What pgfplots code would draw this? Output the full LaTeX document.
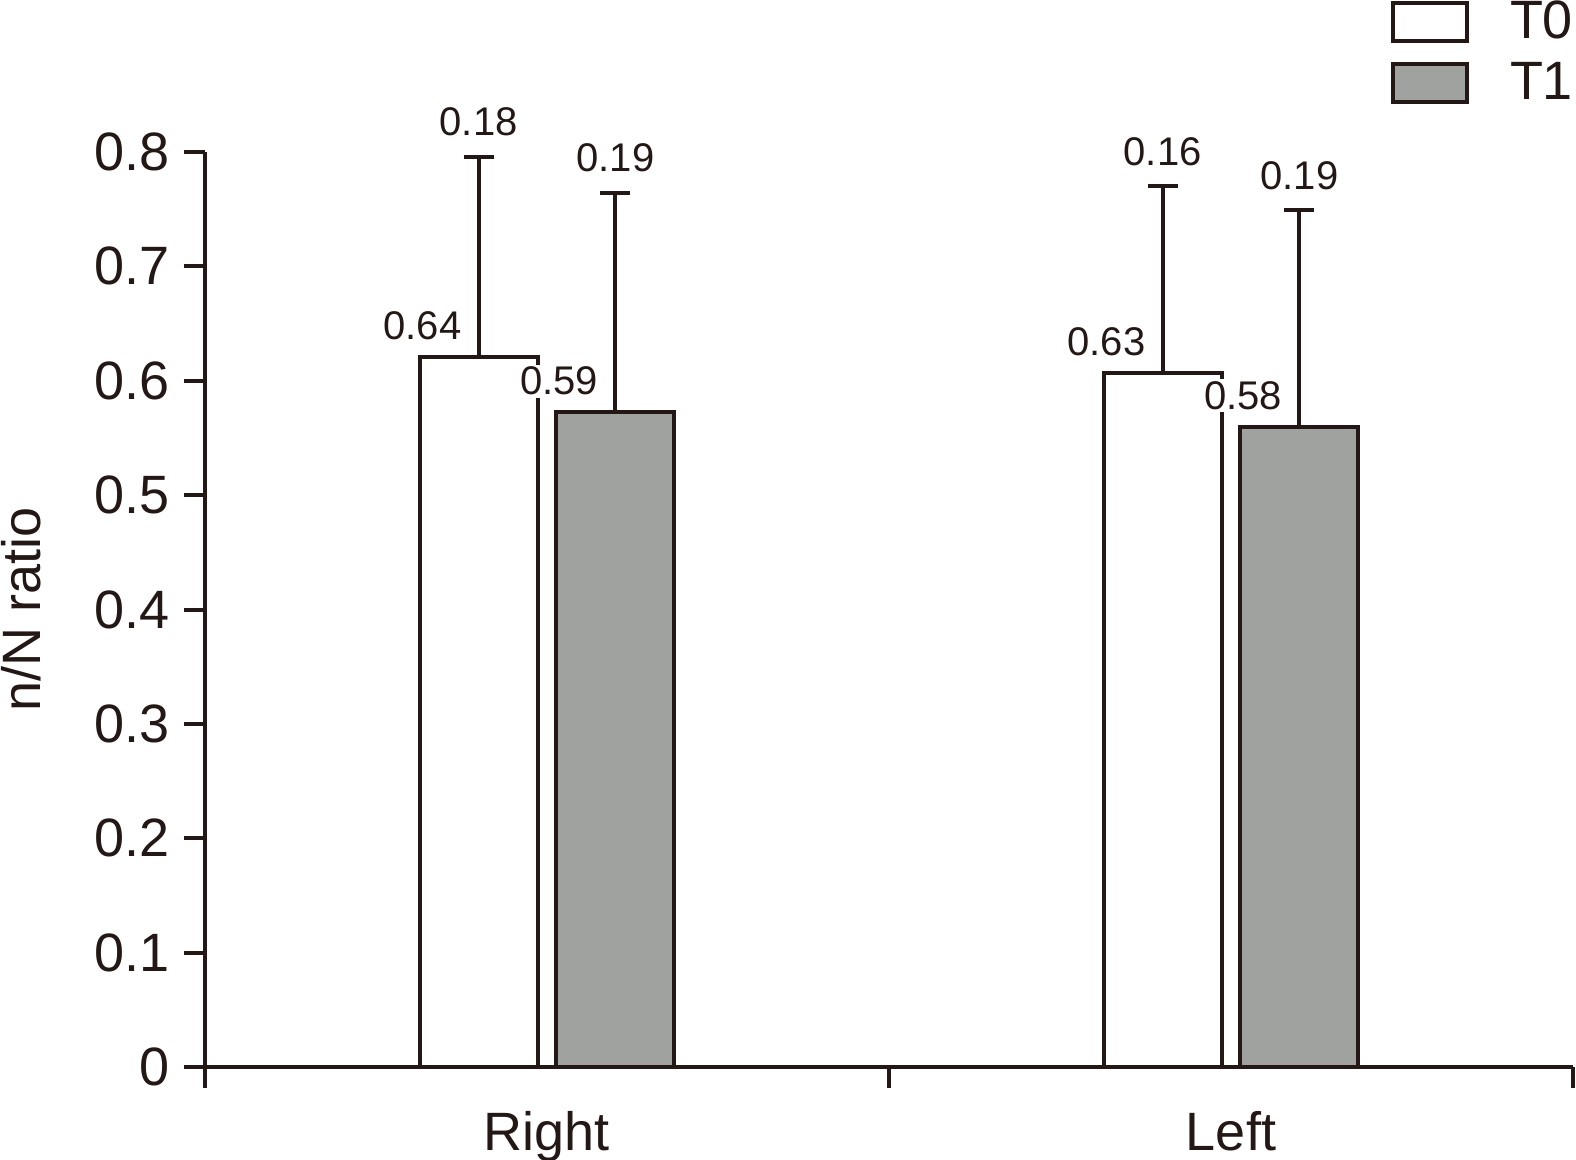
\documentclass[border=0pt]{standalone}
\usepackage{pgfplots}
\pgfplotsset{compat=1.18}
\usepackage{fontspec}
\setmainfont{Liberation Sans}
\definecolor{ink}{RGB}{35,24,21}
\definecolor{barfill}{RGB}{160,162,160}
\pgfplotstableread{
x    y      err
0.4  0.621  0.175
1.4  0.607  0.163
}\tzero
\pgfplotstableread{
x    y      err
0.6  0.573  0.191
1.6  0.560  0.189
}\tone
\newcommand{\bigf}{\fontsize{13.5bp}{16bp}\selectfont}
\newcommand{\smallf}{\fontsize{10bp}{12bp}\selectfont}
\pgfplotsset{boxlegend/.style={legend image code/.code={\draw[##1, line width=1bp] (0bp,-4.6bp) rectangle (18.5bp,4.9bp);}}}
\begin{document}
\begin{tikzpicture}
\path[use as bounding box] (-51.25bp,-23.25bp) rectangle (342.75bp,266.75bp);
\begin{axis}[
  at={(0,0)}, anchor=south west,
  scale only axis, width=342bp, height=228.75bp,
  clip=false,
  xmin=0, xmax=2, ymin=0, ymax=0.8,
  axis lines=left,
  axis line style={-, line width=1bp, draw=ink},
  tick align=outside, major tick length=5.25bp,
  tick style={draw=ink, line width=1bp},
  ytick={0,0.1,0.2,0.3,0.4,0.5,0.6,0.7,0.8},
  yticklabels={0,0.1,0.2,0.3,0.4,0.5,0.6,0.7,0.8},
  xtick={0,1,2}, xticklabels={,,},
  extra x ticks={0.5,1.5}, extra x tick labels={Right,Left},
  extra x tick style={major tick length=0pt, xticklabel style={yshift=-7.5bp}},
  /pgf/number format/assume math mode=true,
  tick label style={font=\bigf, text=ink},
  ylabel={n/N ratio},
  ylabel style={font=\bigf, text=ink, at={(axis description cs:-0.134,0.5)}, anchor=center},
  ybar, bar shift=0pt, bar width=29.5bp,
  legend style={at={(axis description cs:1,1)}, anchor=north west,
    xshift=-45.5bp, yshift=37.8bp, draw=none, fill=none,
    inner sep=0pt, outer sep=0pt, row sep=4.5bp, column sep=10.25bp,
    nodes={inner sep=0pt, font=\bigf, text=ink}},
  legend cell align=left,
]
\addplot[draw=ink, fill=white, line width=1bp, boxlegend,
  error bars/.cd, y dir=plus, y explicit, error mark=|,
  error bar style={draw=ink, line width=1bp},
  error mark options={draw=ink, line width=1bp, mark size=3.75bp}]
  table[x=x, y=y, y error=err] {\tzero};
\addlegendentry{T0}
\addplot[draw=ink, fill=barfill, line width=1bp, boxlegend,
  error bars/.cd, y dir=plus, y explicit, error mark=|,
  error bar style={draw=ink, line width=1bp},
  error mark options={draw=ink, line width=1bp, mark size=3.75bp}]
  table[x=x, y=y, y error=err] {\tone};
\addlegendentry{T1}
% mean labels
\node[anchor=base east, inner sep=0.6bp, fill=white, font=\smallf, text=ink, xshift=-3.5bp, yshift=4.2bp] at (axis cs:0.4,0.621) {0.64};
\node[anchor=base east, inner sep=0.6bp, fill=white, font=\smallf, text=ink, xshift=-3.5bp, yshift=4.2bp] at (axis cs:0.6,0.573) {0.59};
\node[anchor=base east, inner sep=0.6bp, fill=white, font=\smallf, text=ink, xshift=-3.5bp, yshift=4.2bp] at (axis cs:1.4,0.607) {0.63};
\node[anchor=base east, inner sep=0.6bp, fill=white, font=\smallf, text=ink, xshift=-3.5bp, yshift=4.2bp] at (axis cs:1.6,0.560) {0.58};
% SD labels
\node[anchor=base, inner sep=0pt, font=\smallf, text=ink, yshift=5.3bp] at (axis cs:0.4,0.796) {0.18};
\node[anchor=base, inner sep=0pt, font=\smallf, text=ink, yshift=5.3bp] at (axis cs:0.6,0.764) {0.19};
\node[anchor=base, inner sep=0pt, font=\smallf, text=ink, yshift=5.3bp] at (axis cs:1.4,0.770) {0.16};
\node[anchor=base, inner sep=0pt, font=\smallf, text=ink, yshift=5.3bp] at (axis cs:1.6,0.749) {0.19};
\end{axis}
\end{tikzpicture}
\end{document}
